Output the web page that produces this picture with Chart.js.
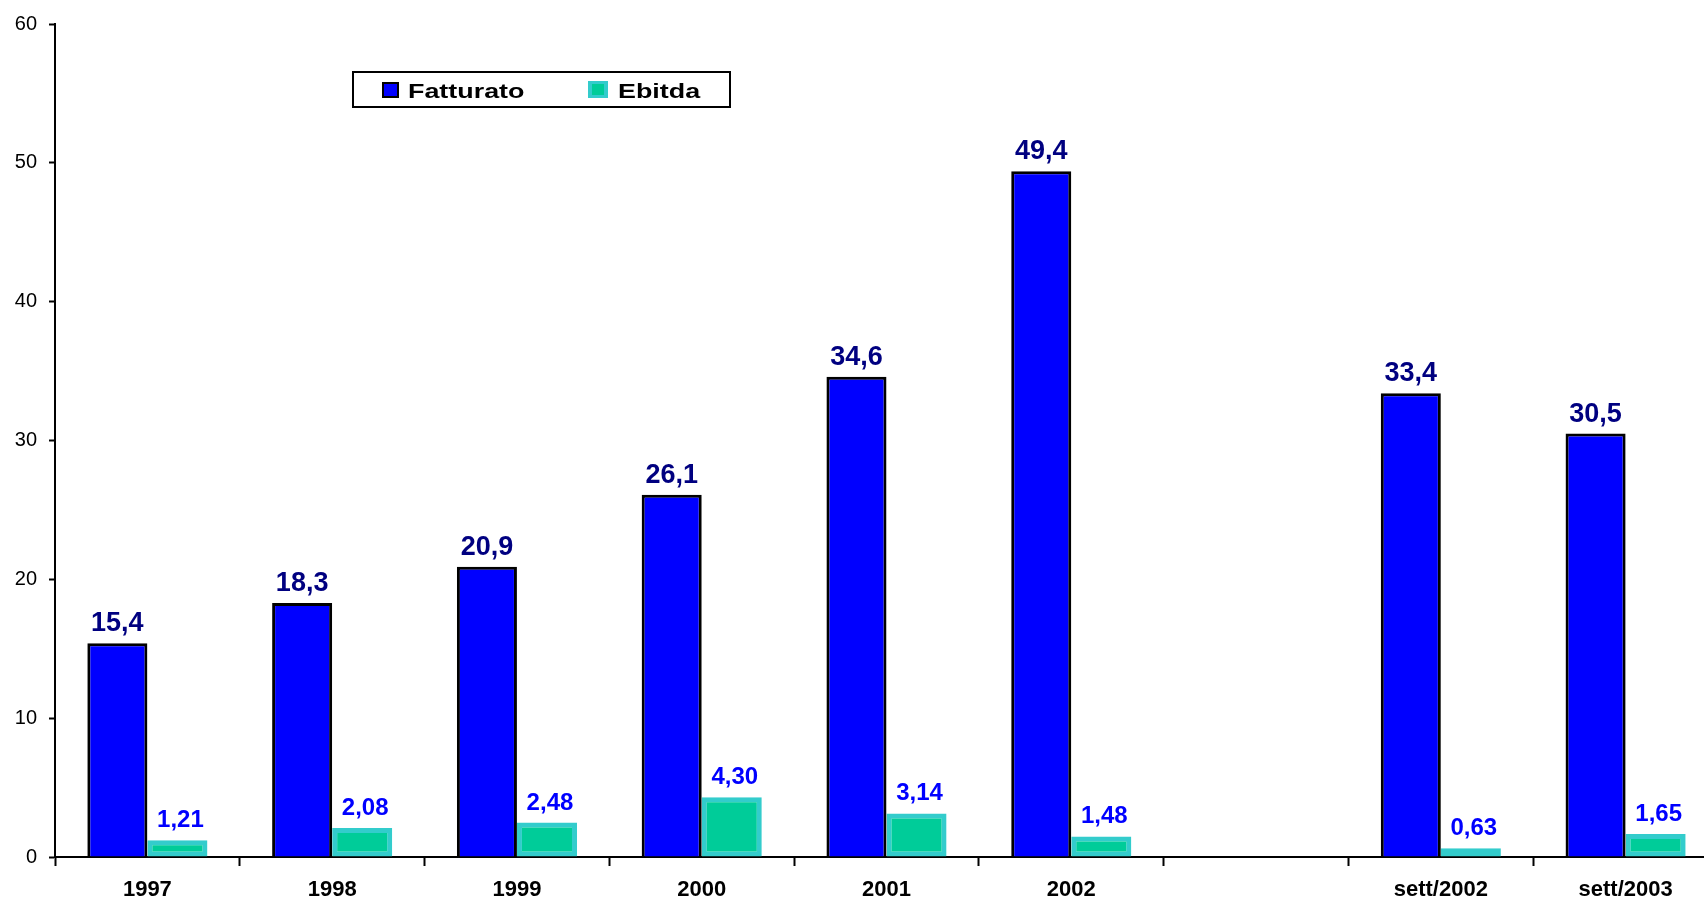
<!DOCTYPE html>
<html>
<head>
<meta charset="utf-8">
<script src="https://cdn.jsdelivr.net/npm/chart.js@4/dist/chart.umd.min.js"></script>
<style>
  html, body { margin: 0; padding: 0; background: #fff; overflow: hidden; }
  #wrap { width: 1718px; height: 901px; }
</style>
</head>
<body>
<div id="wrap"><canvas id="chart" width="1718" height="901"></canvas></div>
<script>
const periodi = ['1997', '1998', '1999', '2000', '2001', '2002', '', 'sett/2002', 'sett/2003']
const fatturato = [15.4, 18.3, 20.9, 26.1, 34.6, 49.4, null, 33.4, 30.5]
const ebitda = [1.21, 2.08, 2.48, 4.30, 3.14, 1.48, null, 0.63, 1.65]
const yTicks = [0, 10, 20, 30, 40, 50, 60]

const FONT = 'Arial, "Liberation Sans", sans-serif'

// stile etichette valore per serie
const labelStyle = [
  { font: 'bold 27px ' + FONT, color: '#000080', decimals: 1, gap: 12, dx: 0 },
  { font: 'bold 24px ' + FONT, color: '#0000FF', decimals: 2, gap: 13, dx: 3 }
]

const valueLabels = {
  id: 'valueLabels',
  afterDatasetsDraw(chart) {
    const ctx = chart.ctx
    chart.data.datasets.forEach((ds, i) => {
      const st = labelStyle[i]
      const meta = chart.getDatasetMeta(i)
      ctx.save()
      ctx.font = st.font
      ctx.fillStyle = st.color
      ctx.textAlign = 'center'
      ctx.textBaseline = 'alphabetic'
      meta.data.forEach((bar, j) => {
        const v = ds.data[j]
        if (v == null) return
        ctx.fillText(v.toFixed(st.decimals).replace('.', ','), bar.x + st.dx, bar.y - st.gap)
      })
      ctx.restore()
    })
  }
}

// testo della legenda un po' allargato in orizzontale
function wideText(ctx, text, x, y, sx) {
  ctx.save()
  ctx.translate(x, y)
  ctx.scale(sx, 1)
  ctx.fillText(text, 0, 0)
  ctx.restore()
}

// legenda in riquadro dentro l'area del grafico
const boxLegend = {
  id: 'boxLegend',
  afterDraw(chart) {
    const ctx = chart.ctx
    const ds = chart.data.datasets
    ctx.save()
    ctx.lineWidth = 2
    ctx.strokeStyle = '#000'
    ctx.fillStyle = '#fff'
    ctx.fillRect(353, 72, 377, 35)
    ctx.strokeRect(353, 72, 377, 35)

    // Fatturato
    ctx.fillStyle = ds[0].backgroundColor
    ctx.fillRect(383, 83, 15, 14)
    ctx.strokeRect(383, 83, 15, 14)
    // Ebitda
    ctx.fillStyle = ds[1].borderColor
    ctx.fillRect(588, 81, 20, 17)
    ctx.fillStyle = ds[1].backgroundColor
    ctx.fillRect(592, 84, 12, 11)

    ctx.font = 'bold 21px ' + FONT
    ctx.fillStyle = '#000'
    ctx.textBaseline = 'alphabetic'
    wideText(ctx, ds[0].label, 408, 98, 1.28)
    wideText(ctx, ds[1].label, 618, 98, 1.28)
    ctx.restore()
  }
}

new Chart(document.getElementById('chart'), {
  type: 'bar',
  data: {
    labels: periodi,
    datasets: [
      {
        label: 'Fatturato',
        data: fatturato,
        backgroundColor: '#0000FF',
        borderColor: '#000000',
        borderWidth: 3,
        categoryPercentage: 0.65,
        barPercentage: 1.0
      },
      {
        label: 'Ebitda',
        data: ebitda,
        backgroundColor: '#00CC99',
        borderColor: '#33CCCC',
        borderWidth: 5,
        borderSkipped: false,
        categoryPercentage: 0.65,
        barPercentage: 1.0
      }
    ]
  },
  options: {
    responsive: false,
    animation: false,
    layout: { padding: { top: 23, right: 0, left: 0, bottom: 0 } },
    plugins: {
      legend: { display: false },
      tooltip: { enabled: false }
    },
    scales: {
      x: {
        offset: true,
        grid: {
          offset: true,
          drawOnChartArea: false,
          drawTicks: true,
          tickLength: 9,
          tickColor: '#000',
          tickWidth: 2
        },
        border: { color: '#000', width: 2 },
        ticks: {
          color: '#000',
          font: { family: FONT, size: 22, weight: 'bold' },
          padding: 11,
          maxRotation: 0,
          autoSkip: false
        },
        afterFit(scale) { scale.height = 44 }
      },
      y: {
        min: 0,
        max: 60,
        afterBuildTicks(scale) { scale.ticks = yTicks.map(v => ({ value: v })) },
        grid: {
          drawOnChartArea: false,
          drawTicks: true,
          tickLength: 6,
          tickColor: '#000',
          tickWidth: 2
        },
        border: { color: '#000', width: 2 },
        ticks: {
          color: '#000',
          font: { family: FONT, size: 20 },
          padding: 12
        },
        afterFit(scale) { scale.width = 55 }
      }
    }
  },
  plugins: [valueLabels, boxLegend]
})
</script>
</body>
</html>
